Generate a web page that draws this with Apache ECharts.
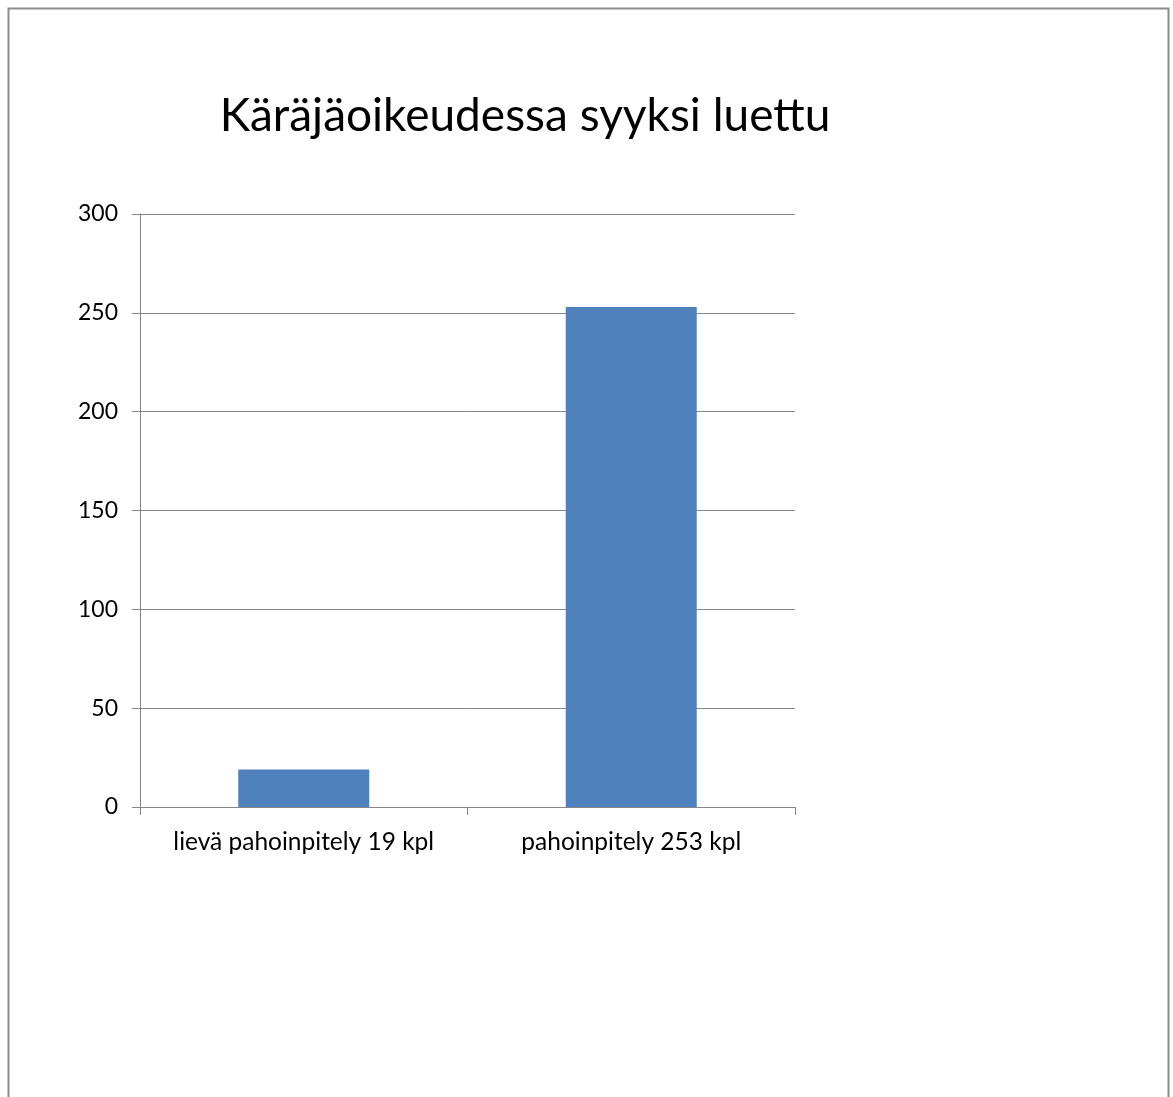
<!DOCTYPE html>
<html>
<head>
<meta charset="utf-8">
<script src="https://cdn.jsdelivr.net/npm/echarts@6/dist/echarts.min.js"></script>
<style>
  html, body { margin: 0; padding: 0; background: #fff; }
  #chart { width: 1173px; height: 1097px; }
</style>
</head>
<body>
<div id="chart"></div>
<script>
// Käräjäoikeudessa syyksi luettu
const categories = ["lievä pahoinpitely 19 kpl", "pahoinpitely 253 kpl"];
const values = [19, 253];

const axisColor = "#868686";
const chart = echarts.init(document.getElementById("chart"));

chart.setOption({
  backgroundColor: "#fff",
  animation: false,
  title: {
    text: "Käräjäoikeudessa syyksi luettu",
    left: 520,
    top: 88,
    textAlign: "center",
    textStyle: {
      fontFamily: "Lato",
      fontWeight: "normal",
      fontSize: 46,
      color: "#000"
    }
  },
  graphic: [
    {
      type: "rect",
      shape: { x: 8.5, y: 8.5, width: 1160, height: 1120 },
      style: { fill: null, stroke: "#8c8c8c", lineWidth: 2 },
      silent: true
    }
  ],
  grid: { left: 140, right: 378, top: 214, bottom: 290 },
  xAxis: {
    type: "category",
    data: categories,
    boundaryGap: true,
    axisLine: { lineStyle: { color: axisColor, width: 1 } },
    axisTick: { show: true, interval: 0, length: 8, lineStyle: { color: axisColor } },
    axisLabel: {
      interval: 0,
      hideOverlap: false,
      color: "#000",
      fontFamily: "Lato",
      fontSize: 24.5,
      margin: 23
    }
  },
  yAxis: {
    type: "value",
    min: 0,
    max: 300,
    interval: 50,
    axisLine: { show: true, lineStyle: { color: axisColor, width: 1 } },
    axisTick: { show: true, length: 8, lineStyle: { color: axisColor } },
    axisLabel: {
      color: "#000",
      fontFamily: "Lato",
      fontSize: 23,
      margin: 22
    },
    splitLine: { lineStyle: { color: axisColor, width: 1 } }
  },
  series: [
    {
      type: "bar",
      data: values,
      barWidth: "40%",
      itemStyle: { color: "#4F81BD" }
    }
  ]
});
</script>
</body>
</html>
